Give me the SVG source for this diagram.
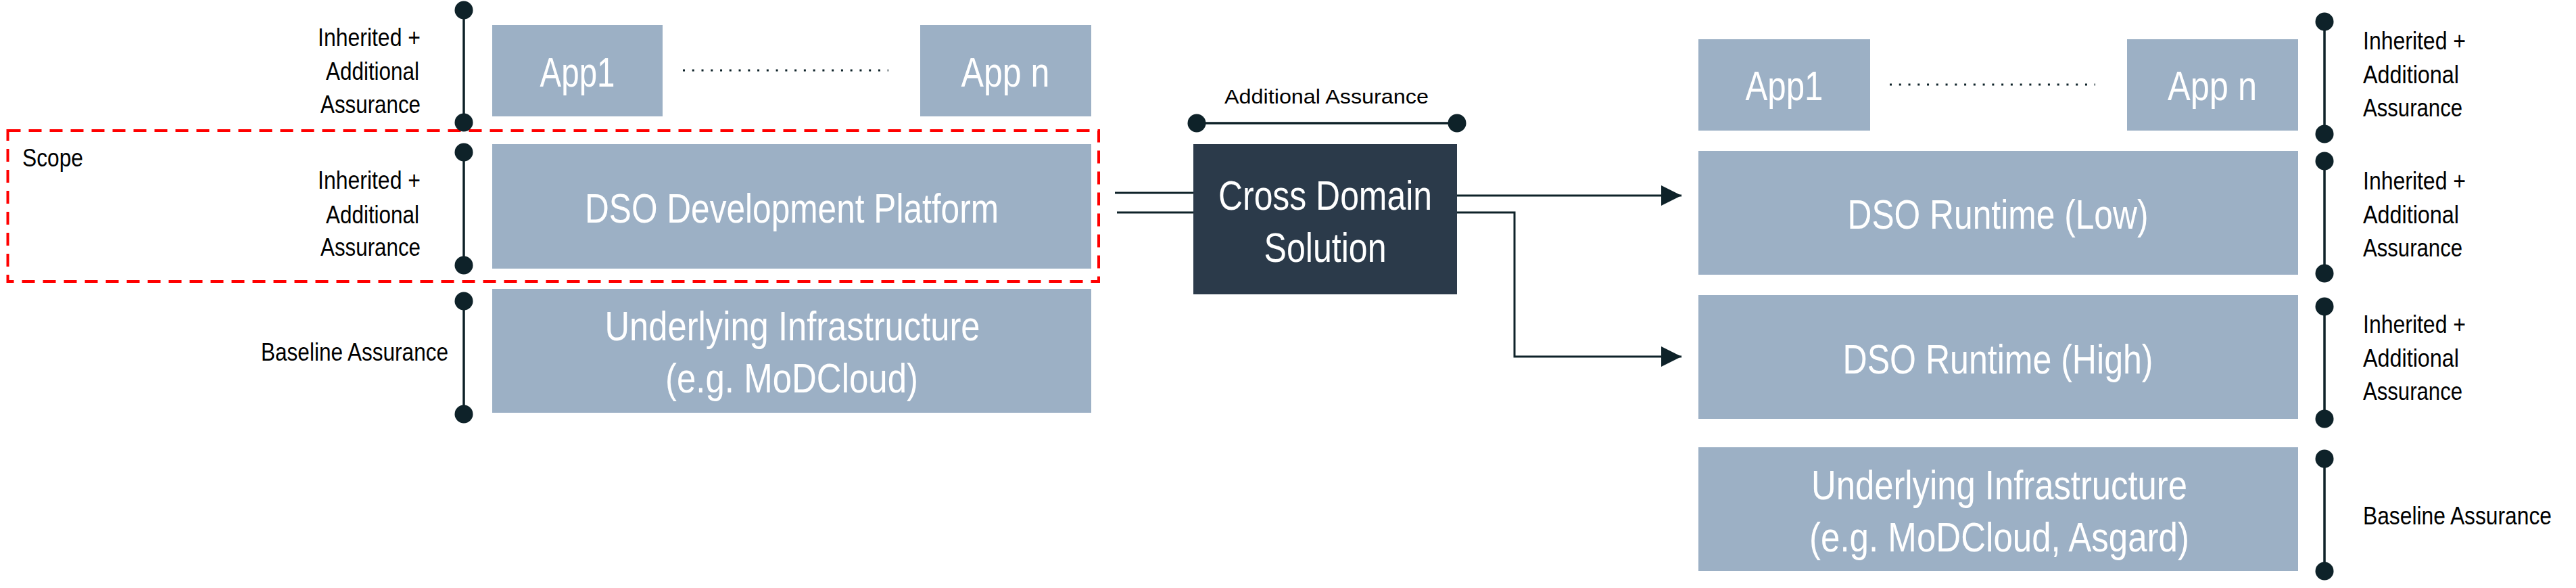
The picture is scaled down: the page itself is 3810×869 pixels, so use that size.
<svg xmlns="http://www.w3.org/2000/svg" width="3810" height="869" viewBox="0 0 3810 869">
  <style>
    .box{fill:#9CB0C5}
    .dark{fill:#2B3A4A}
    .bt{font-family:"Liberation Sans",Arial,sans-serif;font-size:62px;fill:#ffffff;text-anchor:middle}
    .lbl{font-family:"Liberation Sans",Arial,sans-serif;font-size:37px;fill:#000000}
    .end{text-anchor:end}
    .mid{text-anchor:middle}
    .bar{stroke:#0E2229;stroke-width:3.5;fill:none}
    .dot{fill:#0E2229}
    .conn{stroke:#0E2229;stroke-width:3;fill:none}
    .dotted{stroke:#0E2229;stroke-width:3;stroke-dasharray:3 10.76;fill:none}
    .scope{stroke:#FF0000;stroke-width:4;stroke-dasharray:19 12;fill:none}
  </style>
  <defs>
    <marker id="arrow" markerUnits="userSpaceOnUse" markerWidth="30" markerHeight="30" viewBox="0 0 28 28" refX="28" refY="14" orient="auto">
      <path d="M0,0 L28,14 L0,28 Z" fill="#0E2229"/>
    </marker>
  </defs>

  <rect width="3810" height="869" fill="#ffffff"/>

  <!-- Scope -->
  <g id="scope">
    <rect class="scope" x="11.5" y="193" width="1613.5" height="223"/>
    <text class="lbl" x="33" y="246" textLength="90" lengthAdjust="spacingAndGlyphs">Scope</text>
  </g>

  <!-- Left stack -->
  <g id="left-app1">
    <rect class="box" x="728" y="37" width="252" height="135"/>
    <text class="bt" x="854" y="128" textLength="111" lengthAdjust="spacingAndGlyphs">App1</text>
  </g>
  <g id="left-appn">
    <rect class="box" x="1361" y="37" width="253" height="135"/>
    <text class="bt" x="1487" y="128" textLength="131" lengthAdjust="spacingAndGlyphs">App n</text>
  </g>
  <g id="dso-dev">
    <rect class="box" x="728" y="213" width="886" height="184"/>
    <text class="bt" x="1171" y="329" textLength="612" lengthAdjust="spacingAndGlyphs">DSO Development Platform</text>
  </g>
  <g id="left-infra">
    <rect class="box" x="728" y="427" width="886" height="183"/>
    <text class="bt" x="1172" y="503" textLength="555" lengthAdjust="spacingAndGlyphs">Underlying Infrastructure</text>
    <text class="bt" x="1171" y="580" textLength="374" lengthAdjust="spacingAndGlyphs">(e.g. MoDCloud)</text>
  </g>

  <!-- Cross Domain Solution -->
  <g id="cds">
    <rect class="dark" x="1765" y="213" width="390" height="222"/>
    <text class="bt" x="1960" y="310" textLength="316" lengthAdjust="spacingAndGlyphs">Cross Domain</text>
    <text class="bt" x="1960" y="387" textLength="181" lengthAdjust="spacingAndGlyphs">Solution</text>
  </g>
  <g id="cds-assurance">
    <line class="bar" x1="1770" y1="182" x2="2155" y2="182"/>
    <circle class="dot" cx="1770" cy="182" r="13.5"/>
    <circle class="dot" cx="2155" cy="182" r="13.5"/>
    <text class="lbl mid" x="1962" y="153" style="font-size:30px" textLength="302" lengthAdjust="spacingAndGlyphs">Additional Assurance</text>
  </g>

  <!-- Right stack -->
  <g id="right-app1">
    <rect class="box" x="2512" y="58" width="254" height="135"/>
    <text class="bt" x="2639" y="148" textLength="115" lengthAdjust="spacingAndGlyphs">App1</text>
  </g>
  <g id="right-appn">
    <rect class="box" x="3146" y="58" width="253" height="135"/>
    <text class="bt" x="3272" y="148" textLength="132" lengthAdjust="spacingAndGlyphs">App n</text>
  </g>
  <g id="runtime-low">
    <rect class="box" x="2512" y="223" width="887" height="183"/>
    <text class="bt" x="2955" y="338" textLength="445" lengthAdjust="spacingAndGlyphs">DSO Runtime (Low)</text>
  </g>
  <g id="runtime-high">
    <rect class="box" x="2512" y="436" width="887" height="183"/>
    <text class="bt" x="2955" y="552" textLength="459" lengthAdjust="spacingAndGlyphs">DSO Runtime (High)</text>
  </g>
  <g id="right-infra">
    <rect class="box" x="2512" y="661" width="887" height="183"/>
    <text class="bt" x="2957" y="738" textLength="556" lengthAdjust="spacingAndGlyphs">Underlying Infrastructure</text>
    <text class="bt" x="2957" y="815" textLength="562" lengthAdjust="spacingAndGlyphs">(e.g. MoDCloud, Asgard)</text>
  </g>

  <!-- Left assurance bars -->
  <g id="left-assurance-apps">
    <line class="bar" x1="686" y1="15" x2="686" y2="181"/>
    <circle class="dot" cx="686" cy="15" r="13.5"/>
    <circle class="dot" cx="686" cy="181" r="13.5"/>
    <text class="lbl end" x="622" y="68" textLength="152" lengthAdjust="spacingAndGlyphs">Inherited +</text>
    <text class="lbl end" x="620" y="118" textLength="138" lengthAdjust="spacingAndGlyphs">Additional</text>
    <text class="lbl end" x="622" y="167" textLength="148" lengthAdjust="spacingAndGlyphs">Assurance</text>
  </g>
  <g id="left-assurance-dev">
    <line class="bar" x1="686" y1="225" x2="686" y2="392"/>
    <circle class="dot" cx="686" cy="225" r="13.5"/>
    <circle class="dot" cx="686" cy="392" r="13.5"/>
    <text class="lbl end" x="622" y="279" textLength="152" lengthAdjust="spacingAndGlyphs">Inherited +</text>
    <text class="lbl end" x="620" y="330" textLength="138" lengthAdjust="spacingAndGlyphs">Additional</text>
    <text class="lbl end" x="622" y="378" textLength="148" lengthAdjust="spacingAndGlyphs">Assurance</text>
  </g>
  <g id="left-assurance-infra">
    <line class="bar" x1="686" y1="445" x2="686" y2="612"/>
    <circle class="dot" cx="686" cy="445" r="13.5"/>
    <circle class="dot" cx="686" cy="612" r="13.5"/>
    <text class="lbl end" x="663" y="533" textLength="277" lengthAdjust="spacingAndGlyphs">Baseline Assurance</text>
  </g>

  <!-- Right assurance bars -->
  <g id="right-assurance-apps">
    <line class="bar" x1="3438" y1="32" x2="3438" y2="198"/>
    <circle class="dot" cx="3438" cy="32" r="13.5"/>
    <circle class="dot" cx="3438" cy="198" r="13.5"/>
    <text class="lbl" x="3495" y="73" textLength="152" lengthAdjust="spacingAndGlyphs">Inherited +</text>
    <text class="lbl" x="3495" y="123" textLength="142" lengthAdjust="spacingAndGlyphs">Additional</text>
    <text class="lbl" x="3495" y="172" textLength="147" lengthAdjust="spacingAndGlyphs">Assurance</text>
  </g>
  <g id="right-assurance-low">
    <line class="bar" x1="3438" y1="238" x2="3438" y2="404"/>
    <circle class="dot" cx="3438" cy="238" r="13.5"/>
    <circle class="dot" cx="3438" cy="404" r="13.5"/>
    <text class="lbl" x="3495" y="280" textLength="152" lengthAdjust="spacingAndGlyphs">Inherited +</text>
    <text class="lbl" x="3495" y="330" textLength="142" lengthAdjust="spacingAndGlyphs">Additional</text>
    <text class="lbl" x="3495" y="379" textLength="147" lengthAdjust="spacingAndGlyphs">Assurance</text>
  </g>
  <g id="right-assurance-high">
    <line class="bar" x1="3438" y1="453" x2="3438" y2="619"/>
    <circle class="dot" cx="3438" cy="453" r="13.5"/>
    <circle class="dot" cx="3438" cy="619" r="13.5"/>
    <text class="lbl" x="3495" y="492" textLength="152" lengthAdjust="spacingAndGlyphs">Inherited +</text>
    <text class="lbl" x="3495" y="542" textLength="142" lengthAdjust="spacingAndGlyphs">Additional</text>
    <text class="lbl" x="3495" y="591" textLength="147" lengthAdjust="spacingAndGlyphs">Assurance</text>
  </g>
  <g id="right-assurance-infra">
    <line class="bar" x1="3438" y1="678" x2="3438" y2="844"/>
    <circle class="dot" cx="3438" cy="678" r="13.5"/>
    <circle class="dot" cx="3438" cy="844" r="13.5"/>
    <text class="lbl" x="3495" y="775" textLength="279" lengthAdjust="spacingAndGlyphs">Baseline Assurance</text>
  </g>

  <!-- Connectors -->
  <g id="connectors">
    <line class="dotted" x1="1010" y1="104" x2="1314" y2="104"/>
    <line class="dotted" x1="2795" y1="125" x2="3099" y2="125"/>
    <line class="conn" x1="1649" y1="285" x2="1765" y2="285"/>
    <line class="conn" x1="1652" y1="314" x2="1765" y2="314"/>
    <path class="conn" d="M2155,289 L2487,289" marker-end="url(#arrow)"/>
    <path class="conn" d="M2155,314 L2240,314 L2240,527 L2487,527" marker-end="url(#arrow)"/>
  </g>
</svg>
